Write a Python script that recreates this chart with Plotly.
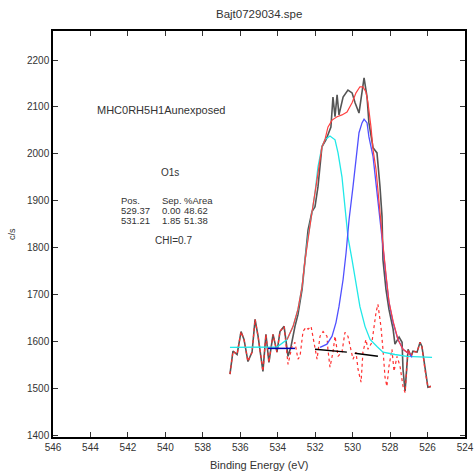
import plotly.graph_objects as go

# Raw spectrum (binding energy eV, counts/s)
raw_energy = [536.55, 536.39, 536.17, 535.96, 535.80, 535.59, 535.37, 535.21, 535.05, 534.79,
              534.63, 534.47, 534.25, 534.04, 533.88, 533.66, 533.45, 533.29, 533.08, 532.92,
              532.70, 532.54, 532.38, 532.17, 532.01, 531.85, 531.64, 531.42, 531.16, 531.05,
              530.94, 530.83, 530.73, 530.51, 530.25, 530.03, 529.87, 529.66, 529.50, 529.39,
              529.23, 529.13, 528.91, 528.70, 528.54, 528.43, 528.38, 528.22, 528.06, 527.84,
              527.74, 527.52, 527.36, 527.31, 527.20, 527.04, 526.88, 526.78, 526.56, 526.40,
              526.30, 526.14, 525.98, 525.82]
raw_counts = [1530, 1579, 1572, 1621, 1604, 1557, 1577, 1647, 1611, 1536,
              1615, 1555, 1615, 1577, 1621, 1632, 1568, 1589, 1632, 1657,
              1711, 1781, 1838, 1877, 1887, 1930, 2015, 2030, 2057, 2121,
              2079, 2126, 2083, 2121, 2136, 2130, 2109, 2087, 2130, 2162,
              2121, 2066, 2013, 2002, 1930, 1866, 1774, 1711, 1668, 1626,
              1594, 1609, 1598, 1540, 1494, 1583, 1568, 1579, 1577, 1598,
              1589, 1540, 1502, 1504]

# Component 1 (531.21 eV), cyan
c1_energy = [536.55, 534.04, 533.50, 533.18, 532.92, 532.70, 532.54, 532.38, 532.17, 532.01,
             531.85, 531.64, 531.48, 531.21, 530.94, 530.78, 530.57, 530.41, 530.25, 530.03,
             529.87, 529.61, 529.34, 529.07, 528.70, 528.38, 527.74, 527.10, 525.76]
c1_counts = [1587, 1588, 1604, 1632, 1668, 1717, 1774, 1823, 1874, 1917,
             1972, 2015, 2030, 2038, 2030, 2002, 1951, 1881, 1823, 1774,
             1732, 1674, 1632, 1604, 1589, 1577, 1572, 1568, 1566]

# Component 2 (529.37 eV), blue
c2_energy = [531.74, 531.37, 531.10, 530.89, 530.73, 530.51, 530.35, 530.19, 529.98, 529.82,
             529.66, 529.50, 529.39, 529.23, 529.13, 528.91, 528.75, 528.59, 528.38, 528.22,
             528.06, 527.84, 527.58, 527.31, 526.94, 526.83]
c2_counts = [1587, 1594, 1611, 1640, 1674, 1732, 1789, 1860, 1930, 1994,
             2045, 2066, 2074, 2066, 2036, 1994, 1938, 1874, 1802, 1738,
             1683, 1640, 1604, 1583, 1572, 1566]

# Envelope (red)
env_energy = [533.50, 533.18, 532.92, 532.70, 532.54, 532.38, 532.17, 531.90, 531.64, 531.48,
              531.32, 531.10, 530.83, 530.57, 530.30, 530.03, 529.82, 529.61, 529.45, 529.29,
              529.18, 529.02, 528.91, 528.75, 528.59, 528.38, 528.22, 528.06, 527.84, 527.58,
              527.31, 526.94]
env_counts = [1604, 1632, 1668, 1717, 1774, 1823, 1876, 1945, 2015, 2030,
              2057, 2072, 2079, 2083, 2089, 2109, 2130, 2143, 2143, 2132,
              2109, 2057, 2009, 1966, 1891, 1806, 1743, 1685, 1643, 1604,
              1583, 1572]

# Residual (red dotted)
res_energy = [536.55, 536.39, 536.17, 535.96, 535.80, 535.59, 535.37, 535.21, 535.05, 534.79,
              534.63, 534.47, 534.25, 534.04, 533.88, 533.66, 533.45, 533.24, 533.08, 532.92,
              532.81, 532.65, 532.49, 532.38, 532.22, 532.12, 532.01, 531.90, 531.74, 531.58,
              531.37, 531.32, 531.21, 531.05, 530.94, 530.78, 530.57, 530.41, 530.25, 530.09,
              529.98, 529.82, 529.71, 529.55, 529.45, 529.29, 529.18, 528.97, 528.86, 528.75,
              528.65, 528.49, 528.38, 528.27, 528.17, 528.06, 527.90, 527.79, 527.63, 527.47,
              527.31, 527.20, 527.04, 526.88, 526.78, 526.56, 526.40, 526.30, 526.14, 525.98,
              525.82]
res_counts = [1530, 1579, 1572, 1621, 1604, 1557, 1577, 1647, 1611, 1536,
              1615, 1555, 1615, 1577, 1621, 1632, 1551, 1589, 1598, 1562,
              1568, 1621, 1630, 1626, 1632, 1611, 1583, 1562, 1611, 1621,
              1611, 1583, 1545, 1577, 1611, 1568, 1577, 1619, 1611, 1583,
              1562, 1577, 1540, 1513, 1577, 1604, 1583, 1598, 1632, 1662,
              1679, 1632, 1583, 1523, 1504, 1547, 1583, 1536, 1568, 1547,
              1504, 1491, 1583, 1568, 1579, 1577, 1598, 1589, 1540, 1502,
              1504]

# Background segments
bg_left_energy = [534.52, 533.08]
bg_left_counts = [1585, 1585]
bg_energy = [532.01, 530.30, 528.65]
bg_counts = [1583, 1577, 1568]

x_ticks = [546, 544, 542, 540, 538, 536, 534, 532, 530, 528, 526, 524]
y_ticks = [1400, 1500, 1600, 1700, 1800, 1900, 2000, 2100, 2200]

fig = go.Figure()
fig.add_trace(go.Scatter(x=raw_energy, y=raw_counts, mode="lines",
                         line=dict(color="#555555", width=1.6)))
fig.add_trace(go.Scatter(x=res_energy, y=res_counts, mode="lines",
                         line=dict(color="#ff3030", width=1.2, dash="dot")))
fig.add_trace(go.Scatter(x=c1_energy, y=c1_counts, mode="lines",
                         line=dict(color="#20e8e8", width=1.3)))
fig.add_trace(go.Scatter(x=c2_energy, y=c2_counts, mode="lines",
                         line=dict(color="#5050ff", width=1.3)))
fig.add_trace(go.Scatter(x=env_energy, y=env_counts, mode="lines",
                         line=dict(color="#ff4040", width=1.2)))
fig.add_trace(go.Scatter(x=bg_left_energy, y=bg_left_counts, mode="lines",
                         line=dict(color="#0000b0", width=1.5)))
fig.add_trace(go.Scatter(x=bg_energy, y=bg_counts, mode="lines",
                         line=dict(color="black", width=1.5, dash="32px,8px")))

font_main = "Liberation Sans, Arial, sans-serif"
ann = []
def txt(x, y, s, size=9, anchor="left", family=font_main):
    ann.append(dict(x=x, y=y, xref="x", yref="y", text=s, showarrow=False,
                    xanchor=anchor, yanchor="middle",
                    font=dict(size=size, color="#333333", family=family)))

txt(543.75, 2094, "MHC0RH5H1Aunexposed", size=11)
txt(539.75, 1960, "O1s", size=10, anchor="center")
txt(542.5, 1900, "Pos.", size=9.5)
txt(540.27, 1900, "Sep.", size=9.5)
txt(539.10, 1900, "%Area", size=9.5)
txt(542.5, 1879, "529.37", size=9.5)
txt(540.27, 1879, "0.00", size=9.5)
txt(539.10, 1879, "48.62", size=9.5)
txt(542.5, 1857, "531.21", size=9.5)
txt(540.27, 1857, "1.85", size=9.5)
txt(539.10, 1857, "51.38", size=9.5)
txt(539.55, 1815, "CHI=0.7", size=10, anchor="center")

ann.append(dict(x=0.5, y=1, xref="paper", yref="paper", yshift=17, text="Bajt0729034.spe",
                showarrow=False, xanchor="center", yanchor="middle",
                font=dict(size=11.5, color="#333333", family=font_main)))
ann.append(dict(x=0.5, y=0, xref="paper", yref="paper", yshift=-28, text="Binding Energy (eV)",
                showarrow=False, xanchor="center", yanchor="middle",
                font=dict(size=11, color="#333333", family=font_main)))
ann.append(dict(x=0, y=0.5, xref="paper", yref="paper", xshift=-41, text="c/s", textangle=-90,
                showarrow=False, xanchor="center", yanchor="middle",
                font=dict(size=9, color="#333333", family=font_main)))

fig.update_layout(
    width=475, height=472,
    margin=dict(l=53, r=10, t=31, b=35, autoexpand=False),
    paper_bgcolor="white", plot_bgcolor="white",
    showlegend=False,
    annotations=ann,
    font=dict(family=font_main, size=10, color="#333333"),
)
fig.update_xaxes(range=[546, 524], tickvals=x_ticks, ticktext=[str(v) for v in x_ticks],
                 ticks="inside", ticklen=5, tickcolor="#333", mirror="ticks", automargin=False,
                 showline=True, linecolor="black", linewidth=1.5, showgrid=False, zeroline=False,
                 tickfont=dict(size=10))
fig.update_yaxes(range=[1396, 2262], tickvals=y_ticks, ticktext=[str(v) for v in y_ticks],
                 ticks="inside", ticklen=5, tickcolor="#333", mirror="ticks", automargin=False,
                 showline=True, linecolor="black", linewidth=1.5, showgrid=False, zeroline=False,
                 tickfont=dict(size=10))

# remove the browser's default body margin so the figure fills the window exactly
fig.write_html("out.html", config={"displayModeBar": False},
               post_script="document.body.style.margin='0';document.body.style.overflow='hidden';")
